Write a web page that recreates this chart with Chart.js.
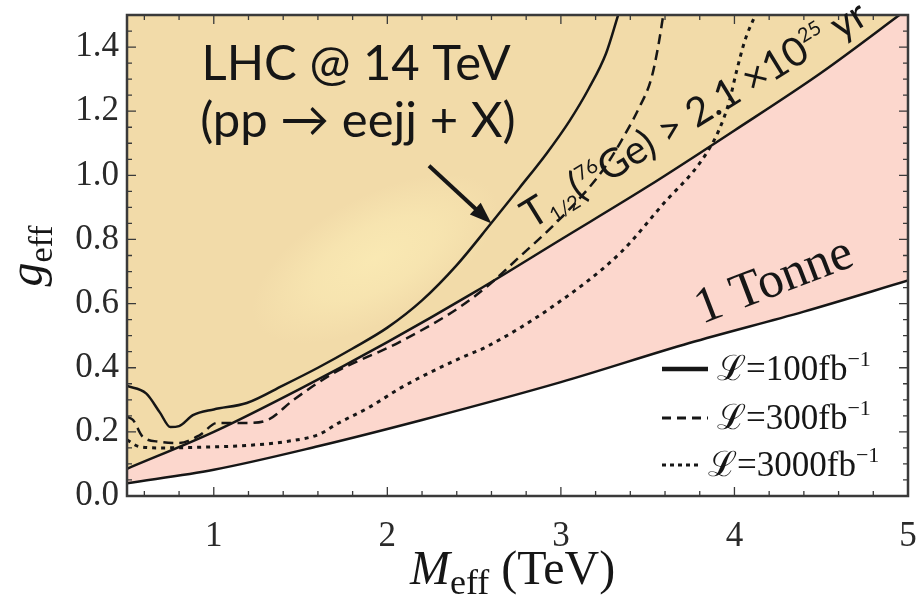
<!DOCTYPE html>
<html>
<head>
<meta charset="utf-8">
<script src="https://cdn.jsdelivr.net/npm/chart.js@4.4.1/dist/chart.umd.min.js"></script>
<style>
  html, body { margin: 0; padding: 0; background: #fff; }
  #wrap { width: 916px; height: 610px; position: relative; }
</style>
</head>
<body>
<div id="wrap"><canvas id="grafico"></canvas></div>
<script>
// 1. DATA (M_eff in TeV, g_eff)
const xTicks = [1, 2, 3, 4, 5];
const yTicks = [0, 0.2, 0.4, 0.6, 0.8, 1.0, 1.2, 1.4];

// 1 Tonne sensitivity
const tonneM = [0.5, 1.0, 1.6, 2.2, 3.0, 3.74, 4.4, 5.0];
const tonneG = [0.04, 0.082, 0.155, 0.237, 0.355, 0.477, 0.575, 0.672];

// T1/2(76Ge) bound
const geM = [0.5, 1.0, 1.5, 2.0, 2.5, 3.0, 3.5, 4.0, 4.5, 5.0];
const geG = [0.085, 0.20, 0.335, 0.48, 0.635, 0.80, 0.965, 1.14, 1.32, 1.52];

// LHC reach, L = 100 fb^-1
const l100M = [0.5, 0.61, 0.69, 0.75, 0.80, 0.88, 1.0, 1.19, 1.4, 1.6, 1.8, 2.0, 2.2, 2.4, 2.59, 2.76, 2.92, 3.05, 3.16, 3.26, 3.33];
const l100G = [0.343, 0.32, 0.26, 0.215, 0.218, 0.252, 0.27, 0.29, 0.345, 0.40, 0.46, 0.525, 0.61, 0.72, 0.845, 0.96, 1.07, 1.17, 1.27, 1.38, 1.5];

// L = 300 fb^-1
const l300M = [0.5, 0.535, 0.59, 0.69, 0.80, 0.92, 1.02, 1.19, 1.31, 1.46, 1.69, 2.07, 2.42, 2.6, 2.76, 2.95, 3.16, 3.26, 3.34, 3.45, 3.52, 3.56, 3.59];
const l300G = [0.247, 0.237, 0.185, 0.169, 0.165, 0.19, 0.228, 0.228, 0.237, 0.30, 0.383, 0.48, 0.59, 0.665, 0.745, 0.84, 0.96, 1.03, 1.10, 1.21, 1.30, 1.40, 1.5];

// L = 3000 fb^-1
const l3000M = [0.5, 0.57, 0.7, 0.92, 1.2, 1.42, 1.61, 1.71, 1.9, 2.07, 2.19, 2.42, 2.57, 2.95, 3.34, 3.61, 3.76, 3.84, 3.91, 3.97, 4.01, 4.06, 4.12];
const l3000G = [0.175, 0.154, 0.15, 0.152, 0.158, 0.17, 0.193, 0.225, 0.278, 0.335, 0.37, 0.43, 0.465, 0.59, 0.757, 0.923, 1.01, 1.07, 1.14, 1.23, 1.32, 1.42, 1.5];

const pts = (xs, ys) => xs.map((x, i) => ({ x: x, y: ys[i] }));

const TAN = '#f2dba9';
const PINK = '#fcd7cd';
const INK = '#161616';
const SERIF = "'Liberation Serif', 'Times New Roman', serif";
const SANS = "Lato, 'Open Sans', sans-serif";

// 2. HELPERS
function richText(ctx, parts, x0, y0) {
    let cx = x0;
    parts.forEach(p => {
        ctx.font = (p.italic ? 'italic ' : '') + p.size + 'px ' + (p.family || SERIF);
        ctx.fillText(p.t, cx, y0 + (p.dy || 0));
        cx += ctx.measureText(p.t).width;
    });
    return cx - x0;
}
function richWidth(ctx, parts) {
    let w = 0;
    parts.forEach(p => {
        ctx.font = (p.italic ? 'italic ' : '') + p.size + 'px ' + (p.family || SERIF);
        w += ctx.measureText(p.t).width;
    });
    return w;
}
function arrow(ctx, x1, y1, x2, y2) {
    const a = Math.atan2(y2 - y1, x2 - x1);
    const c = Math.cos(a), s = Math.sin(a);
    ctx.lineWidth = 4;
    ctx.beginPath();
    ctx.moveTo(x1, y1);
    ctx.lineTo(x2 - 14 * c, y2 - 14 * s);
    ctx.stroke();
    ctx.beginPath();
    ctx.moveTo(x2, y2);
    ctx.lineTo(x2 - 22 * c + 8 * s, y2 - 22 * s - 8 * c);
    ctx.lineTo(x2 - 22 * c - 8 * s, y2 - 22 * s + 8 * c);
    ctx.closePath();
    ctx.fill();
}

// 3. PLUGIN: frame ticks, labels, legend
const decor = {
    id: 'decor',
    afterDatasetDraw(chart, args) {
        if (args.index !== 2) return;
        // lighter patch inside the tan area
        const { ctx, chartArea: a, scales: { x, y } } = chart;
        const cx = x.getPixelForValue(1.93), cy = y.getPixelForValue(0.74);
        ctx.save();
        ctx.beginPath();
        ctx.rect(a.left, a.top, a.width, a.height);
        ctx.clip();
        ctx.translate(cx, cy);
        ctx.rotate(-0.5);
        ctx.scale(2.2, 1);
        const g = ctx.createRadialGradient(0, 0, 0, 0, 0, 62);
        g.addColorStop(0, 'rgba(250,234,180,0.9)');
        g.addColorStop(0.5, 'rgba(250,234,180,0.6)');
        g.addColorStop(1, 'rgba(250,234,180,0)');
        ctx.fillStyle = g;
        ctx.fillRect(-62, -62, 124, 124);
        ctx.restore();
    },
    afterDraw(chart) {
        const { ctx, chartArea: a, scales: { x, y } } = chart;
        ctx.save();

        // frame
        ctx.strokeStyle = '#3a3a3a';
        ctx.lineWidth = 2.5;
        ctx.strokeRect(a.left, a.top, a.width, a.height);

        // inward ticks on all sides
        ctx.lineWidth = 1.3;
        ctx.beginPath();
        for (let i = 3; i < 25; i++) {
            const px = x.getPixelForValue(i / 5);
            const len = i % 5 === 0 ? 9 : 5;
            ctx.moveTo(px, a.bottom); ctx.lineTo(px, a.bottom - len);
            ctx.moveTo(px, a.top); ctx.lineTo(px, a.top + len);
        }
        for (let i = 1; i < 30; i++) {
            const py = y.getPixelForValue(i / 20);
            const len = i % 4 === 0 ? 9 : 5;
            ctx.moveTo(a.left, py); ctx.lineTo(a.left + len, py);
            ctx.moveTo(a.right, py); ctx.lineTo(a.right - len, py);
        }
        ctx.stroke();

        ctx.fillStyle = INK;
        ctx.strokeStyle = INK;
        ctx.textBaseline = 'alphabetic';

        // LHC label and arrow
        ctx.textAlign = 'center';
        ctx.font = '49px ' + SANS;
        ctx.fillText('LHC @ 14 TeV', x.getPixelForValue(1.82), y.getPixelForValue(1.297));
        ctx.fillText('(pp \u2192 eejj + X)', x.getPixelForValue(1.83), y.getPixelForValue(1.12));
        arrow(ctx, x.getPixelForValue(2.24), y.getPixelForValue(1.03),
                   x.getPixelForValue(2.6), y.getPixelForValue(0.85));
        ctx.textAlign = 'left';

        // Ge bound label along the line
        ctx.save();
        ctx.translate(x.getPixelForValue(2.83), y.getPixelForValue(0.83));
        ctx.rotate(-31.5 * Math.PI / 180);
        richText(ctx, [
            { t: 'T', size: 40, family: SANS },
            { t: '1/2', size: 20, dy: 6, family: SANS },
            { t: '(', size: 40, family: SANS },
            { t: '76', size: 20, dy: -16, family: SANS },
            { t: 'Ge) > 2.1 \u00d710', size: 40, family: SANS },
            { t: '25', size: 20, dy: -17, family: SANS },
            { t: ' yr', size: 40, family: SANS }
        ], 0, 0);
        ctx.restore();

        // 1 Tonne label
        ctx.save();
        ctx.translate(702, 324);
        ctx.rotate(-21 * Math.PI / 180);
        ctx.font = '51px ' + SERIF;
        ctx.fillText('1 Tonne', 0, 0);
        ctx.restore();

        // legend
        const rows = [
            { dash: [], lw: 4.5, y: 369, tx: 717, lum: '100' },
            { dash: [9, 6], lw: 3, y: 418, tx: 717, lum: '300' },
            { dash: [4, 4], lw: 3, y: 465, tx: 708, lum: '3000' }
        ];
        rows.forEach(r => {
            ctx.lineWidth = r.lw;
            ctx.setLineDash(r.dash);
            ctx.beginPath();
            ctx.moveTo(662, r.y); ctx.lineTo(r.tx - 9, r.y);
            ctx.stroke();
            ctx.setLineDash([]);
            richText(ctx, [
                { t: '\u2112=' + r.lum + 'fb', size: 35 },
                { t: '\u22121', size: 22, dy: -14 }
            ], r.tx, r.y + 11);
        });

        // axis titles
        const xt = [
            { t: 'M', size: 48, italic: true },
            { t: 'eff', size: 36, dy: 10 },
            { t: ' (TeV)', size: 48 }
        ];
        richText(ctx, xt, 410, 584);

        ctx.save();
        ctx.translate(42, 256);
        ctx.rotate(-Math.PI / 2);
        const yt = [
            { t: 'g', size: 48, italic: true },
            { t: 'eff', size: 34, dy: 10 }
        ];
        richText(ctx, yt, -richWidth(ctx, yt) / 2, 0);
        ctx.restore();

        ctx.restore();
    }
};

// 4. CHART
const lineBase = { borderColor: INK, borderWidth: 2.5, fill: false, order: 1 };

new Chart(document.getElementById('grafico'), {
    type: 'line',
    data: {
        datasets: [
            { label: '1 Tonne', data: pts(tonneM, tonneG), borderColor: INK, borderWidth: 2.5, fill: false, order: 2 },
            { label: 'T1/2 Ge', data: pts(geM, geG), borderColor: INK, borderWidth: 2.5, fill: { target: 0 }, backgroundColor: PINK, order: 3 },
            { label: 'Ge excluded', data: pts(geM, geG), borderWidth: 0, borderColor: 'rgba(0,0,0,0)', fill: 'end', backgroundColor: TAN, order: 4 },
            Object.assign({ label: 'L=100', data: pts(l100M, l100G) }, lineBase),
            Object.assign({ label: 'L=300', data: pts(l300M, l300G), borderDash: [10, 6] }, lineBase),
            Object.assign({ label: 'L=3000', data: pts(l3000M, l3000G) }, lineBase, { borderDash: [4, 5], borderWidth: 3 })
        ]
    },
    options: {
        responsive: true,
        maintainAspectRatio: false,
        animation: false,
        layout: { padding: { top: 15, right: 8, left: 0, bottom: 0 } },
        elements: {
            point: { radius: 0, hoverRadius: 0 },
            line: { tension: 0.4, cubicInterpolationMode: 'monotone' }
        },
        plugins: { legend: { display: false }, tooltip: { enabled: false } },
        scales: {
            x: {
                type: 'linear', min: 0.5, max: 5,
                grid: { display: false, drawTicks: false },
                border: { display: false },
                afterBuildTicks: s => { s.ticks = xTicks.map(v => ({ value: v })); },
                afterFit: s => { s.height = 114; s.paddingLeft = 0; s.paddingRight = 0; },
                ticks: { color: '#2a2a2a', padding: 20, maxRotation: 0, autoSkip: false,
                         font: { family: SERIF, size: 35 }, callback: v => String(v) }
            },
            y: {
                type: 'linear', min: 0, max: 1.5,
                grid: { display: false, drawTicks: false },
                border: { display: false },
                afterBuildTicks: s => { s.ticks = yTicks.map(v => ({ value: v })); },
                afterFit: s => { s.width = 127; s.paddingTop = 0; s.paddingBottom = 0; },
                ticks: { color: '#2a2a2a', padding: 8, autoSkip: false,
                         font: { family: SERIF, size: 35 }, callback: v => v.toFixed(1) }
            }
        }
    },
    plugins: [decor]
});
</script>
</body>
</html>
